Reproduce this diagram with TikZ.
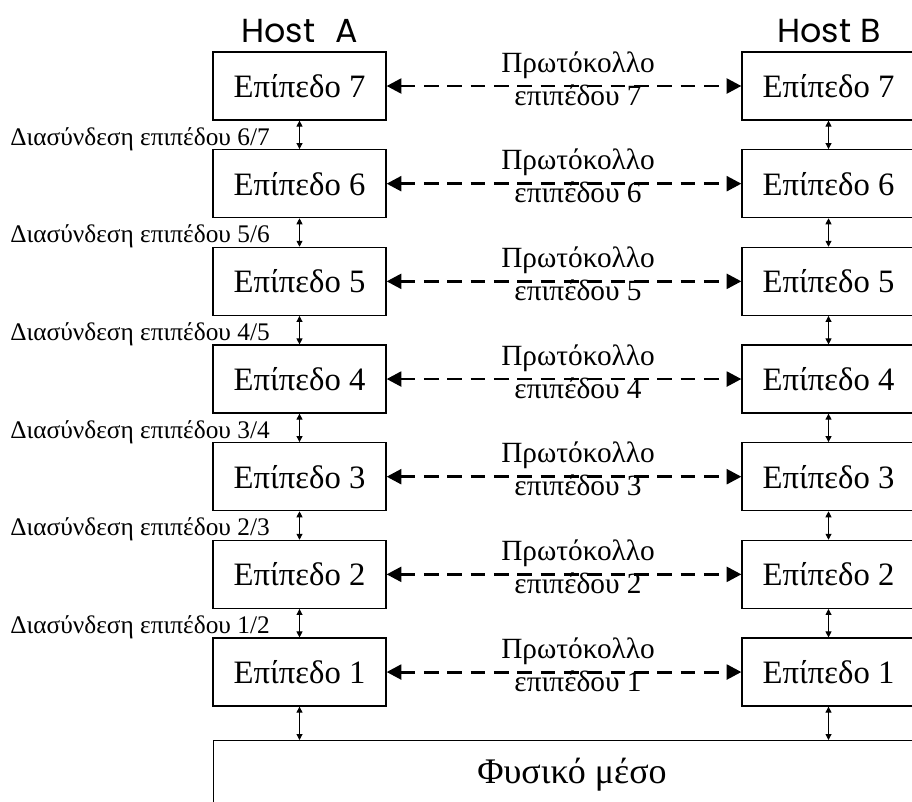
\documentclass[tikz,border=0pt]{standalone}
\usepackage{fontspec}
\setmainfont{Liberation Serif}
\newfontfamily\hostfont{Poppins}
\usetikzlibrary{arrows.meta}
\begin{document}
\begin{tikzpicture}[x=0.75pt,y=-0.75pt,
  layerbox/.style={draw,line width=0.9pt,minimum width=129.75pt,minimum height=51pt,inner sep=0pt,font=\fontsize{24.5}{26}\selectfont},
  protolabel/.style={anchor=base,font=\fontsize{22}{24}\selectfont,inner sep=0pt},
  ifacelabel/.style={anchor=base east,font=\fontsize{19}{21}\selectfont,inner sep=0pt},
  hostlabel/.style={font=\hostfont\fontsize{25}{28}\selectfont,inner sep=0pt},
  peer/.style={line width=2.2pt,dash pattern=on 11pt off 6.5pt,
    {Triangle[length=11pt,width=11pt]}-{Triangle[length=11pt,width=11pt]}},
  iface/.style={line width=0.7pt,{Triangle[length=4.5pt,width=4.5pt]}-{Triangle[length=4.5pt,width=4.5pt]}}
]
\useasboundingbox (0,0) rectangle (912,801);
\begin{scope}
\clip (0,0) rectangle (912,801);

\node[hostlabel] (hostA) at (299.5,31) {Host\hspace{0.6em}A};
\node[hostlabel] (hostB) at (829,31) {Host B};

\foreach \k in {1,...,7}{
  \pgfmathsetmacro{\yy}{86+97.67*(7-\k)}
  \node[layerbox] (A\k) at (299.5,\yy) {Επίπεδο \k};
  \node[layerbox] (B\k) at (828.5,\yy) {Επίπεδο \k};
  \draw[peer] (A\k.east) -- (B\k.east -| B\k.west);
  \node[protolabel] (P\k) at (578,\yy-14) {Πρωτόκολλο};
  \node[protolabel] (Q\k) at (578,\yy+19) {επιπέδου \k};
}

% physical medium
\node[draw,line width=0.9pt,anchor=north west,minimum width=525pt,minimum height=60pt,inner sep=0pt] (phys) at (213,740) {};
\node[anchor=base,font=\fontsize{27}{30}\selectfont,inner sep=0pt] (physlabel) at (572,783) {Φυσικό μέσο};

% interfaces between adjacent layers
\foreach \k [evaluate=\k as \u using int(\k+1)] in {1,...,6}{
  \draw[iface] (A\u.south) -- (A\k.north);
  \draw[iface] (B\u.south) -- (B\k.north);
  \node[ifacelabel] (I\k) at (270,{86+97.67*(6-\k)+59}) {Διασύνδεση επιπέδου \k/\u};
}
\draw[iface] (A1.south) -- (A1.south |- phys.north);
\draw[iface] (B1.south) -- (B1.south |- phys.north);
\end{scope}
\end{tikzpicture}
\end{document}
